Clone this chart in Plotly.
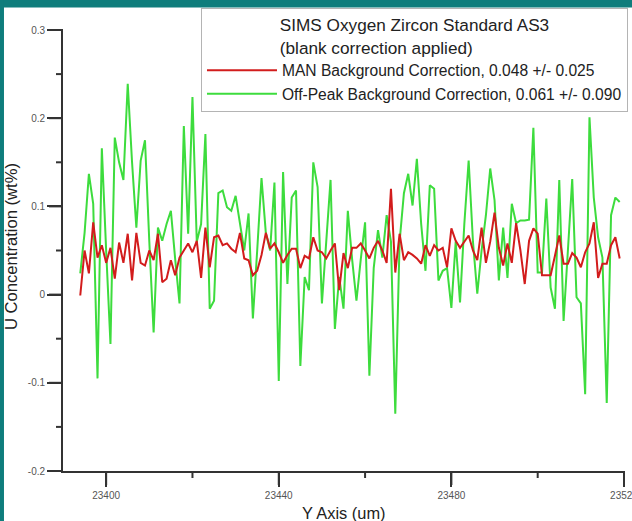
import plotly.graph_objects as go

# Position along the line scan (um)
y_axis_um = [
    23394, 23395, 23396, 23397, 23398, 23399, 23400, 23401, 23402, 23403,
    23404, 23405, 23406, 23407, 23408, 23409, 23410, 23411, 23412, 23413,
    23414, 23415, 23416, 23417, 23418, 23419, 23420, 23421, 23422, 23423,
    23424, 23425, 23426, 23427, 23428, 23429, 23430, 23431, 23432, 23433,
    23434, 23435, 23436, 23437, 23438, 23439, 23440, 23441, 23442, 23443,
    23444, 23445, 23446, 23447, 23448, 23449, 23450, 23451, 23452, 23453,
    23454, 23455, 23456, 23457, 23458, 23459, 23460, 23461, 23462, 23463,
    23464, 23465, 23466, 23467, 23468, 23469, 23470, 23471, 23472, 23473,
    23474, 23475, 23476, 23477, 23478, 23479, 23480, 23481, 23482, 23483,
    23484, 23485, 23486, 23487, 23488, 23489, 23490, 23491, 23492, 23493,
    23494, 23495, 23496, 23497, 23498, 23499, 23500, 23501, 23502, 23503,
    23504, 23505, 23506, 23507, 23508, 23509, 23510, 23511, 23512, 23513,
    23514, 23515, 23516, 23517, 23518, 23519,
]

# MAN background correction (wt%)
man_values = [
    -0.001, 0.050, 0.024, 0.082, 0.042, 0.056, 0.036, 0.053, 0.018, 0.059,
    0.036, 0.069, 0.016, 0.070, 0.036, 0.033, 0.050, 0.039, 0.069, 0.014,
    0.018, 0.039, 0.022, 0.042, 0.050, 0.058, 0.048, 0.061, 0.019, 0.076,
    0.031, 0.065, 0.067, 0.056, 0.058, 0.052, 0.048, 0.070, 0.041, 0.039,
    0.022, 0.027, 0.045, 0.070, 0.052, 0.058, 0.048, 0.036, 0.045, 0.052,
    0.052, 0.030, 0.044, 0.041, 0.065, 0.050, 0.048, 0.041, 0.050, 0.058,
    0.005, 0.047, 0.030, 0.053, 0.053, 0.058, 0.050, 0.041, 0.053, 0.061,
    0.050, 0.036, 0.120, 0.025, 0.069, 0.039, 0.048, 0.045, 0.041, 0.035,
    0.056, 0.044, 0.056, 0.050, 0.053, 0.031, 0.075, 0.061, 0.053, 0.060,
    0.067, 0.050, 0.039, 0.076, 0.036, 0.060, 0.093, 0.053, 0.033, 0.058,
    0.036, 0.081, 0.050, 0.012, 0.061, 0.075, 0.069, 0.022, 0.022, 0.022,
    0.044, 0.067, 0.035, 0.035, 0.047, 0.042, 0.031, 0.048, 0.058, 0.082,
    0.019, 0.035, 0.035, 0.056, 0.065, 0.041,
]

# Off-peak background correction (wt%)
offpeak_values = [
    0.024, 0.070, 0.137, 0.103, -0.095, 0.166, 0.050, -0.056, 0.178, 0.150,
    0.130, 0.239, 0.150, 0.076, 0.152, 0.175, 0.060, -0.043, 0.076, 0.061,
    0.080, 0.095, 0.040, -0.010, 0.191, 0.069, 0.224, 0.060, 0.080, 0.182,
    -0.016, -0.007, 0.115, 0.118, 0.099, 0.095, 0.112, 0.082, 0.050, 0.092,
    -0.027, 0.050, 0.132, 0.070, 0.050, 0.127, -0.098, 0.139, 0.012, 0.110,
    0.118, -0.081, 0.020, 0.005, 0.150, 0.122, -0.010, 0.060, 0.130, -0.039,
    0.020, -0.016, 0.095, 0.040, -0.007, 0.040, 0.082, -0.092, 0.030, 0.073,
    0.042, 0.090, 0.060, -0.135, 0.060, 0.115, 0.137, 0.101, 0.154, 0.080,
    0.027, 0.124, 0.120, 0.016, 0.027, 0.030, -0.015, 0.060, -0.009, 0.080,
    0.152, 0.060, 0.001, 0.050, 0.090, 0.143, 0.107, 0.016, 0.076, 0.019,
    0.103, 0.081, 0.084, 0.084, 0.085, 0.189, 0.025, 0.025, 0.109, 0.008,
    -0.016, 0.130, -0.030, 0.050, 0.131, -0.003, -0.010, -0.113, 0.201, 0.110,
    0.065, 0.042, -0.123, 0.090, 0.110, 0.105,
]

series_names = [
    "MAN Background Correction, 0.048 +/- 0.025",
    "Off-Peak Background Correction, 0.061 +/- 0.090",
]
legend_title = "SIMS Oxygen Zircon Standard AS3<br>(blank correction applied)"
x_title = "Y Axis (um)"
y_title = "U Concentration (wt%)"
x_range = [23390, 23520]
y_range = [-0.2, 0.3]
x_tickvals = [23400, 23440, 23480, 23520]
x_ticktext = ["23400", "23440", "23480", "23520"]
x_minor_tickvals = [23420, 23460, 23500]
y_tickvals = [-0.2, -0.1, 0, 0.1, 0.2, 0.3]
y_ticktext = ["-0.2", "-0.1", "0", "0.1", "0.2", "0.3"]
y_minor_tickvals = [-0.15, -0.05, 0.05, 0.15, 0.25]

FONT = "Liberation Sans, Arial, sans-serif"
RED = "#d21c1c"
GREEN = "#3ddc3d"
TEAL = "#0f7d7c"
AXIS = "#333333"

W, H = 632, 521
ML, MR, MT, MB = 63, 8, 30, 50
PW, PH = W - ML - MR, H - MT - MB
MAJOR_LEN, MINOR_LEN = 14, 7
TICK_W = 2


def x_frac(v):
    return (v - x_range[0]) / (x_range[1] - x_range[0])


def y_frac(v):
    return (v - y_range[0]) / (y_range[1] - y_range[0])


fig = go.Figure()
fig.add_trace(go.Scatter(
    x=y_axis_um, y=offpeak_values, mode="lines", name=series_names[1],
    line=dict(color=GREEN, width=2),
))
fig.add_trace(go.Scatter(
    x=y_axis_um, y=man_values, mode="lines", name=series_names[0],
    line=dict(color=RED, width=2),
))

# Axis tick marks (outside), placed from the axis ranges
tick_shapes = []
for vals, ln in ((x_tickvals, MAJOR_LEN), (x_minor_tickvals, MINOR_LEN)):
    for v in vals:
        tick_shapes.append(dict(type="line", xref="paper", yref="paper",
                                x0=x_frac(v), x1=x_frac(v), y0=0, y1=-ln / PH,
                                line=dict(color=AXIS, width=TICK_W), layer="above"))
for vals, ln in ((y_tickvals, MAJOR_LEN), (y_minor_tickvals, MINOR_LEN)):
    for v in vals:
        tick_shapes.append(dict(type="line", xref="paper", yref="paper",
                                y0=y_frac(v), y1=y_frac(v), x0=0, x1=-ln / PW,
                                line=dict(color=AXIS, width=TICK_W), layer="above"))

fig.update_layout(
    width=W, height=H,
    margin=dict(l=ML, r=MR, t=MT, b=MB, autoexpand=False),
    paper_bgcolor="white", plot_bgcolor="white",
    font=dict(family=FONT, color="#222222"),
    showlegend=True,
    legend=dict(
        traceorder="reversed",
        x=1.0071, y=1.0499, xanchor="right", yanchor="top",
        bgcolor="white", bordercolor="#b4b4b4", borderwidth=1,
        font=dict(family=FONT, size=15.6, color="#222222"),
        title=dict(text=legend_title, side="top center",
                   font=dict(family=FONT, size=17.2, color="#222222")),
        itemwidth=70,
    ),
    xaxis=dict(
        range=x_range, showgrid=False, zeroline=False, automargin=False,
        showline=True, linecolor=AXIS, linewidth=1.8,
        tickmode="array", tickvals=x_tickvals, ticktext=x_ticktext,
        ticks="outside", ticklen=MAJOR_LEN, tickwidth=TICK_W, tickcolor=AXIS,
        ticklabeloverflow="allow",
        tickfont=dict(family=FONT, size=10, color="#555555"),
    ),
    yaxis=dict(
        range=y_range, showgrid=False, zeroline=False, automargin=False,
        showline=True, linecolor=AXIS, linewidth=1.8,
        tickmode="array", tickvals=y_tickvals, ticktext=y_ticktext,
        ticks="outside", ticklen=MAJOR_LEN, tickwidth=TICK_W, tickcolor=AXIS,
        ticklabeloverflow="allow",
        tickfont=dict(family=FONT, size=10, color="#555555"),
    ),
    annotations=[
        dict(text=x_title, xref="paper", yref="paper", x=0.5, y=-0.0952,
             xanchor="center", yanchor="middle", showarrow=False,
             font=dict(family=FONT, size=16.4, color="#222222")),
        dict(text=y_title, xref="paper", yref="paper", x=-0.0909, y=0.508,
             xanchor="center", yanchor="middle", textangle=-90, showarrow=False,
             font=dict(family=FONT, size=16.6, color="#222222")),
    ],
    shapes=tick_shapes + [
        dict(type="rect", xref="paper", yref="paper", x0=-0.2, x1=1.2,
             y0=1.051, y1=1.2, fillcolor=TEAL, line=dict(width=0), layer="above"),
        dict(type="rect", xref="paper", yref="paper", x0=-0.2, x1=-0.1052,
             y0=-0.3, y1=1.2, fillcolor=TEAL, line=dict(width=0), layer="above"),
    ],
)

fig.write_html("out.html")
